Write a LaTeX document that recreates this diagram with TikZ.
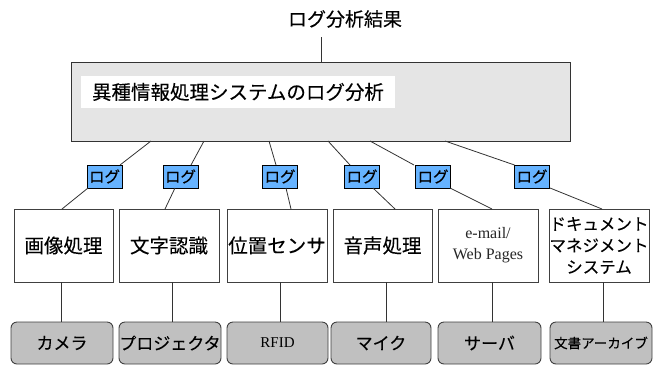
\documentclass[tikz,border=0pt]{standalone}
\usepackage{fontspec}
\setmainfont{Noto Sans CJK JP}[FakeBold=0.2]
\newfontfamily\serifl{Liberation Serif}
\begin{document}
\begin{tikzpicture}[x=1pt,y=-1pt,
  every node/.style={inner sep=0pt,outer sep=0pt},
  mainbox/.style={draw=black!80,line width=0.9pt,fill=black!10},
  logbox/.style={draw=black,line width=0.8pt,fill=logblue,minimum width=35pt,minimum height=23pt,font=\fontsize{15.5}{15.5}\selectfont},
  procbox/.style={draw=black!75,line width=0.9pt,fill=white,minimum height=73pt,align=center},
  devbox/.style={draw=black!75,line width=0.9pt,fill=devgray,rounded corners=6pt,minimum height=42pt},
  conn/.style={draw=black!80,line width=0.8pt}
]
\definecolor{logblue}{HTML}{66B3FF}
\definecolor{devgray}{HTML}{C0C0C0}
\useasboundingbox (0,0) rectangle (663,365);

\node (title) at (345,19) {\fontsize{19}{19}\selectfont ログ分析結果};
\coordinate (tl) at (321,37);

\node[mainbox,minimum width=499pt,minimum height=79pt] (main) at (320.5,101.5) {};
\node[fill=white,minimum width=314pt,minimum height=32pt] (maintext) at (238,92) {\fontsize{19.5}{19.5}\selectfont 異種情報処理システムのログ分析};
\draw[conn] (tl) -- (tl |- main.north);

\node[logbox] (l1) at (104.5,176.5) {ログ};
\node[logbox] (l2) at (180.5,176.5) {ログ};
\node[logbox] (l3) at (280,176.5) {ログ};
\node[logbox] (l4) at (362,176.5) {ログ};
\node[logbox] (l5) at (433,176.5) {ログ};
\node[logbox] (l6) at (532,176.5) {ログ};

\begin{scope}[every node/.append style={font=\fontsize{19.5}{19.5}\selectfont}]
\node[procbox,minimum width=99pt] (p1) at (63.5,245.5) {画像処理};
\node[procbox,minimum width=100pt] (p2) at (169,245.5) {文字認識};
\node[procbox,minimum width=100pt] (p3) at (277,245.5) {位置センサ};
\node[procbox,minimum width=99pt] (p4) at (382.5,245.5) {音声処理};
\end{scope}
\node[procbox,minimum width=100pt,font=\serifl\fontsize{16}{21}\selectfont,text=black!85] (p5) at (488,245.5) {e-mail/\\Web Pages};
\node[procbox,minimum width=100pt,font=\fontsize{16.5}{21.5}\selectfont] (p6) at (599,245.5) {ドキュメント\\マネジメント\\システム};

\begin{scope}[every node/.append style={font=\fontsize{17}{17}\selectfont}]
\node[devbox,minimum width=102pt] (d1) at (62,343) {カメラ};
\node[devbox,minimum width=102pt] (d2) at (170,343) {プロジェクタ};
\node[devbox,minimum width=101pt,font=\serifl\fontsize{15}{15}\selectfont] (d3) at (277.5,343) {RFID};
\node[devbox,minimum width=100pt] (d4) at (381,343) {マイク};
\node[devbox,minimum width=103pt] (d5) at (489.5,343) {サーバ};
\node[devbox,minimum width=102pt,font=\fontsize{13.5}{13.5}\selectfont] (d6) at (601,343) {文書アーカイブ};
\end{scope}

% main -> log
\draw[conn] (151,0 |- main.south) -- (120,0 |- l1.north);
\draw[conn] (204,0 |- main.south) -- (191,0 |- l2.north);
\draw[conn] (269,0 |- main.south) -- (276,0 |- l3.north);
\draw[conn] (328,0 |- main.south) -- (350,0 |- l4.north);
\draw[conn] (370,0 |- main.south) -- (414,0 |- l5.north);
\draw[conn] (445,0 |- main.south) -- (l6.north west);
% log -> process
\draw[conn] (88,0 |- l1.south) -- (62,0 |- p1.north);
\draw[conn] (175,0 |- l2.south) -- (165,0 |- p2.north);
\draw[conn] (286,0 |- l3.south) -- (291,0 |- p3.north);
\draw[conn] (373,0 |- l4.south) -- (395,0 |- p4.north);
\draw[conn] (450,0 |- l5.south) -- (492,0 |- p5.north);
\draw[conn] (550,0 |- l6.south) -- (602,0 |- p6.north);
% process -> device
\draw[conn] (61,0 |- p1.south) -- (61,0 |- d1.north);
\draw[conn] (172,0 |- p2.south) -- (172,0 |- d2.north);
\draw[conn] (280,0 |- p3.south) -- (280,0 |- d3.north);
\draw[conn] (386,0 |- p4.south) -- (386,0 |- d4.north);
\draw[conn] (492,0 |- p5.south) -- (492,0 |- d5.north);
\draw[conn] (603,0 |- p6.south) -- (603,0 |- d6.north);
\end{tikzpicture}
\end{document}
